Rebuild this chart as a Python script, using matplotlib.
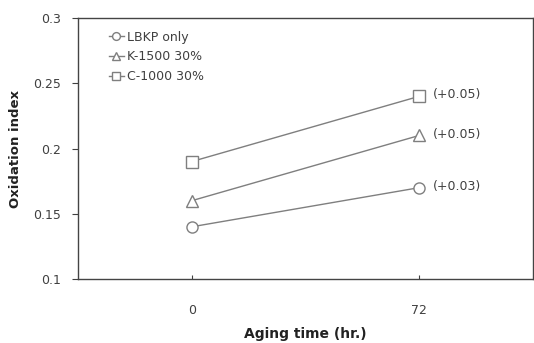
import matplotlib.pyplot as plt

categories = ['0', '72']
lbkp = [0.14, 0.17]
k1500 = [0.16, 0.21]
c1000 = [0.19, 0.24]
changes = ['(+0.03)', '(+0.05)', '(+0.05)']
names = ['LBKP only', 'K-1500 30%', 'C-1000 30%']

plt.rcParams['font.family'] = ['DejaVu Sans']
gray = '#7f7f7f'
txt = '#404040'

fig = plt.figure(figsize=(5.34, 3.43), dpi=100)
ax = fig.add_axes([78 / 534, 1 - 279 / 343, 455 / 534, 261 / 343])

x = range(len(categories))
series = [lbkp, k1500, c1000]
markers = ['o', '^', 's']
sizes = [8, 8, 9]
for vals, m, name, s, ch in zip(series, markers, names, sizes, changes):
    ax.plot(x, vals, color=gray, lw=1, marker=m, ms=s, mfc='white',
            mec=gray, mew=1, label=name)
    ax.annotate(ch, (x[-1], vals[-1]), xytext=(10, 1),
                textcoords='offset points', va='center', fontsize=9, color=txt)

ax.set_xlim(-0.5, 1.5)
ax.set_ylim(0.1, 0.3)
ax.set_xticks(list(x))
ax.set_xticklabels(categories)
ax.set_yticks([0.1, 0.15, 0.2, 0.25, 0.3])
ax.set_yticklabels(['0.1', '0.15', '0.2', '0.25', '0.3'])
ax.tick_params(axis='x', direction='in', length=3, pad=18, labelsize=9, colors=txt)
ax.tick_params(axis='y', direction='out', length=4, pad=8, labelsize=9, colors=txt)
for sp in ax.spines.values():
    sp.set_color('#444444')
    sp.set_linewidth(1)

ax.set_xlabel('Aging time (hr.)', fontsize=10, fontweight='bold', labelpad=7, color='#222222')
ax.set_ylabel('Oxidation index', fontsize=9.5, fontweight='bold', labelpad=8, color='#222222')

leg = ax.legend(loc='upper left', frameon=False, fontsize=9, handlelength=1.2,
                handletextpad=0.3, labelspacing=0.55, borderaxespad=0.6,
                bbox_to_anchor=(0.04, 1.0), markerscale=0.7)
for t in leg.get_texts():
    t.set_color(txt)

fig.savefig('out.png', dpi=100)
